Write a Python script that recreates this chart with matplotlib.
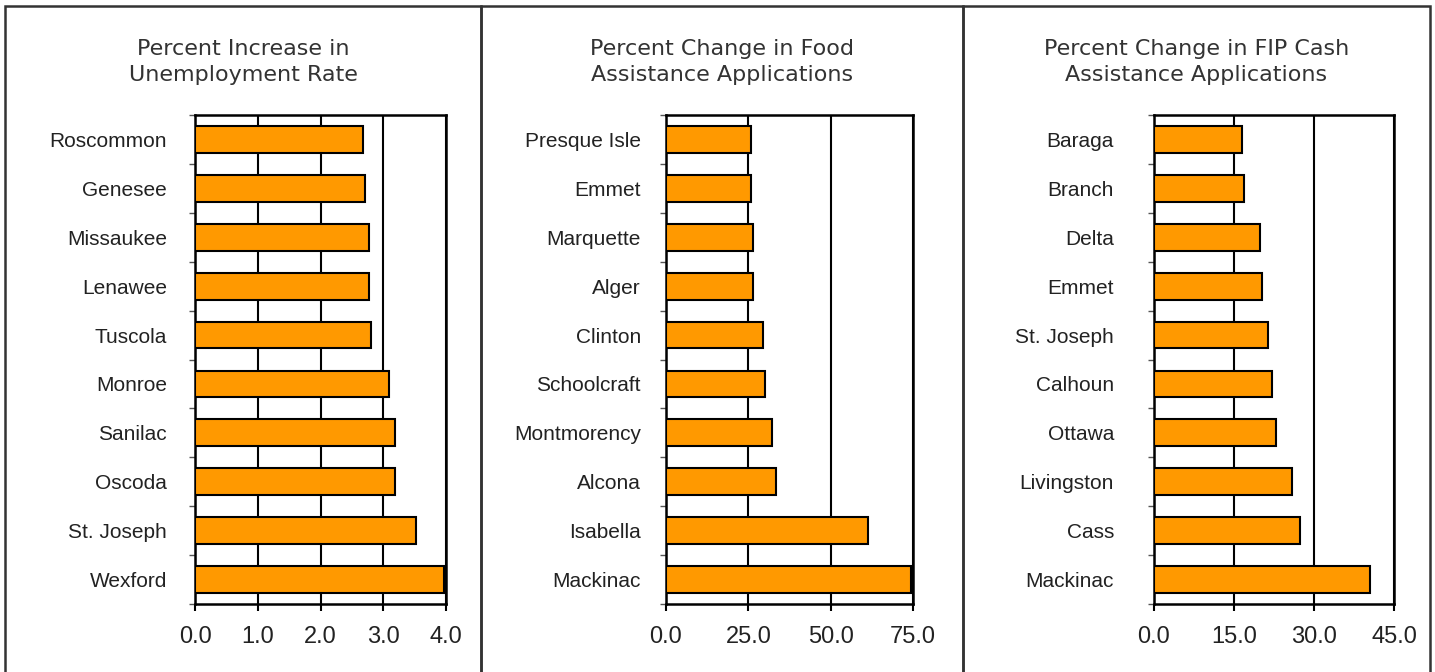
import matplotlib
matplotlib.use("Agg")
import matplotlib.pyplot as plt
from matplotlib.patches import Rectangle
import numpy as np

# data (top to bottom)
unemp_counties = ["Roscommon", "Genesee", "Missaukee", "Lenawee", "Tuscola",
                  "Monroe", "Sanilac", "Oscoda", "St. Joseph", "Wexford"]
unemp_values = [2.68, 2.71, 2.77, 2.77, 2.80, 3.09, 3.19, 3.19, 3.52, 3.97]

food_counties = ["Presque Isle", "Emmet", "Marquette", "Alger", "Clinton",
                 "Schoolcraft", "Montmorency", "Alcona", "Isabella", "Mackinac"]
food_values = [25.8, 25.8, 26.4, 26.4, 29.5, 30.1, 32.2, 33.4, 61.3, 74.4]

fip_counties = ["Baraga", "Branch", "Delta", "Emmet", "St. Joseph",
                "Calhoun", "Ottawa", "Livingston", "Cass", "Mackinac"]
fip_values = [16.5, 16.9, 19.9, 20.3, 21.4, 22.1, 22.9, 25.9, 27.4, 40.5]

titles = ["Percent Increase in\nUnemployment Rate",
          "Percent Change in Food\nAssistance Applications",
          "Percent Change in FIP Cash\nAssistance Applications"]
x_ticks = [[0, 1, 2, 3, 4], [0, 25, 50, 75], [0, 15, 30, 45]]

W, H = 1435, 672
fig = plt.figure(figsize=(W / 100, H / 100), dpi=100)

# axes boxes in pixels: left, width, label pad
boxes = [(195, 251, 28), (666, 247, 25), (1154, 240, 40)]
panels = [(5, 481), (481, 963), (963, 1430)]
top_px, bot_px = 115, 604

datasets = [(unemp_counties, unemp_values),
            (food_counties, food_values),
            (fip_counties, fip_values)]

for i, ((cats, vals), (left, width, pad), ticks) in enumerate(zip(datasets, boxes, x_ticks)):
    ax = fig.add_axes([left / W, (H - bot_px) / H, width / W, (bot_px - top_px) / H])
    y = np.arange(len(cats))
    ax.barh(y, vals, height=0.55, color="#FF9900", edgecolor="black",
            linewidth=1.5, zorder=3)
    ax.set_xlim(ticks[0], ticks[-1])
    ax.set_ylim(len(cats) - 0.5, -0.5)
    ax.set_xticks(ticks)
    ax.set_xticklabels([f"{t:.1f}" for t in ticks], fontsize=17,
                       fontfamily="Liberation Sans", color="#222222")
    ax.set_yticks(y)
    ax.set_yticklabels(cats, fontsize=15, fontfamily="Liberation Sans", color="#222222")
    ax.set_yticks(np.arange(len(cats) + 1) - 0.5, minor=True)
    ax.tick_params(axis="y", which="major", length=0, pad=pad * 0.72)
    ax.tick_params(axis="y", which="minor", length=4, width=1, color="#555555")
    ax.tick_params(axis="x", which="major", length=5, width=1.5, pad=11)
    ax.grid(axis="x", color="black", linewidth=1.5, zorder=0)
    for s in ax.spines.values():
        s.set_linewidth(1.8)
    # panel title centred over the panel
    p0, p1 = panels[i]
    fig.text((p0 + p1) / 2 / W, 1 - 62 / H, titles[i], ha="center", va="center",
             fontsize=16, color="#333333", fontfamily="DejaVu Sans",
             linespacing=1.4)

# panel borders
for p0, p1 in panels:
    fig.add_artist(Rectangle((p0 / W, -0.05), (p1 - p0) / W, 1.05 - 6 / H,
                             transform=fig.transFigure, fill=False,
                             edgecolor="#333333", linewidth=1.8))

fig.savefig("out.png", dpi=100)
